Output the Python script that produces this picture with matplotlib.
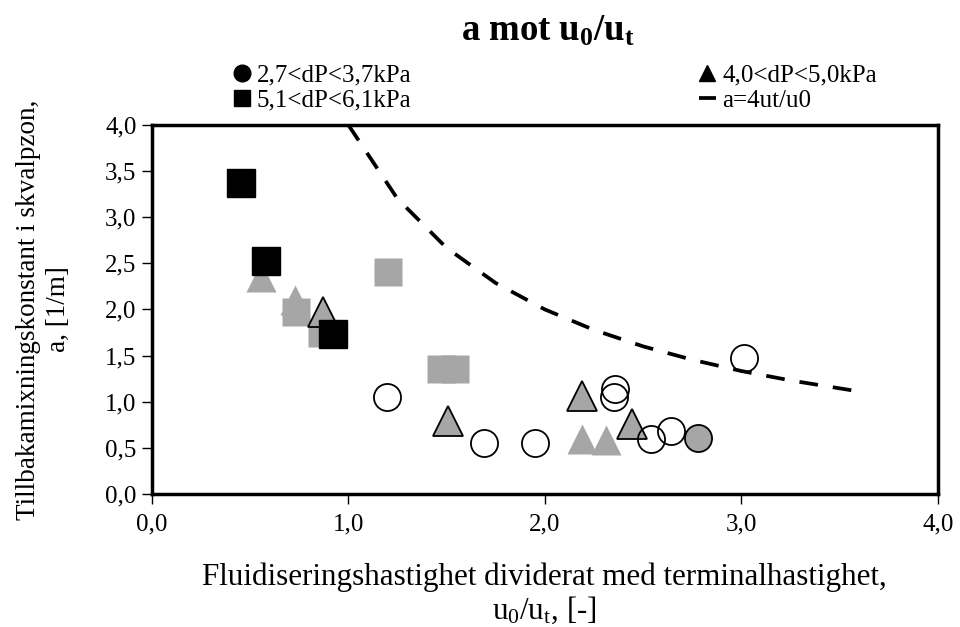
import matplotlib
matplotlib.use('Agg')
import matplotlib.pyplot as plt
from matplotlib.lines import Line2D

# data
x_sq_black = [0.456, 0.584, 0.92]
y_sq_black = [3.37, 2.525, 1.736]
x_sq_gray = [1.203, 0.733, 0.864, 1.474, 1.542]
y_sq_gray = [2.405, 1.975, 1.747, 1.355, 1.355]
x_tri_gray = [0.558, 0.728, 2.187, 2.309]
y_tri_gray = [2.35, 2.10, 0.60, 0.587]
x_tri_edge = [0.872, 1.505, 2.19, 2.444]
y_tri_edge = [1.97, 0.79, 1.065, 0.755]
x_circ_open = [1.196, 1.691, 1.949, 2.351, 2.356, 2.538, 2.64, 3.013]
y_circ_open = [1.054, 0.551, 0.558, 1.05, 1.138, 0.594, 0.688, 1.475]
x_circ_gray = [2.777]
y_circ_gray = [0.605]
x_line = [1.0, 1.25, 1.5, 1.75, 2.0, 2.25, 2.5, 2.75, 3.0, 3.25, 3.6]
y_line = [4.0, 3.2, 2.667, 2.286, 2.0, 1.778, 1.6, 1.455, 1.333, 1.231, 1.111]

xticks = [0, 1, 2, 3, 4]
xticklabels = ['0,0', '1,0', '2,0', '3,0', '4,0']
yticks = [0, 0.5, 1, 1.5, 2, 2.5, 3, 3.5, 4]
yticklabels = ['0,0', '0,5', '1,0', '1,5', '2,0', '2,5', '3,0', '3,5', '4,0']
# legend order column by column: circle, square | triangle, line
labels = ['2,7<dP<3,7kPa', '5,1<dP<6,1kPa', '4,0<dP<5,0kPa', 'a=4ut/u0']

plt.rcParams['font.family'] = 'Liberation Serif'
plt.rcParams['mathtext.fontset'] = 'custom'
plt.rcParams['mathtext.rm'] = 'Liberation Serif'
plt.rcParams['mathtext.it'] = 'Liberation Serif'
plt.rcParams['mathtext.bf'] = 'Liberation Serif:bold'

gray = '#a6a6a6'
fig = plt.figure(figsize=(9.6, 6.27), dpi=100)
ax = fig.add_axes([0.158, 0.212, 0.819, 0.589])

ax.plot(x_sq_gray, y_sq_gray, 's', ms=19.5, mfc=gray, mec='none', zorder=2)
ax.plot(x_tri_gray, y_tri_gray, '^', ms=21, mfc=gray, mec='none', zorder=2)
ax.plot(x_tri_edge, y_tri_edge, '^', ms=21, mfc=gray, mec='black', mew=1.3, zorder=3)
ax.plot(x_circ_open, y_circ_open, 'o', ms=19.5, mfc='none', mec='black', mew=1.3, zorder=3)
ax.plot(x_circ_gray, y_circ_gray, 'o', ms=19.5, mfc=gray, mec='black', mew=1.3, zorder=3)
ax.plot(x_sq_black, y_sq_black, 's', ms=19.5, mfc='black', mec='black', zorder=4)
ax.plot(x_line, y_line, color='black', lw=2.7, dashes=(5, 4), zorder=5)

ax.set_xlim(0, 4)
ax.set_ylim(0, 4)
ax.set_xticks(xticks)
ax.set_xticklabels(xticklabels)
ax.set_yticks(yticks)
ax.set_yticklabels(yticklabels)
ax.tick_params(direction='out', length=7, width=1, labelsize=18, pad=4)
ax.tick_params(axis='x', pad=7)
for s in ax.spines.values():
    s.set_linewidth(2.5)

ax.set_xlabel('Fluidiseringshastighet dividerat med terminalhastighet,\nu$_0$/u$_t$, [-]',
              fontsize=22.3, linespacing=1.1)
ax.xaxis.set_label_coords(0.5, -0.185)
ax.set_ylabel('Tillbakamixningskonstant i skvalpzon,\na, [1/m]', fontsize=19.5, linespacing=1.25)
ax.yaxis.set_label_coords(-0.103, 0.5)

fig.text(0.571, 0.950, r'a mot u$_\mathbf{0}$/u$_\mathbf{t}$', fontsize=26.5, fontweight='bold',
         ha='center', va='center')

handles = [Line2D([], [], ls='none', marker='o', ms=12, color='black'),
           Line2D([], [], ls='none', marker='s', ms=12, color='black'),
           Line2D([], [], ls='none', marker='^', ms=12, color='black'),
           Line2D([], [], color='black', lw=2.7, dashes=(5, 4))]
fig.legend(handles, labels, loc='center', bbox_to_anchor=(0.578, 0.860), ncol=2, frameon=False,
           fontsize=18, handlelength=0.7, handletextpad=0.25, columnspacing=11.5,
           labelspacing=0.12, borderaxespad=0, borderpad=0)

plt.savefig('out.png')
